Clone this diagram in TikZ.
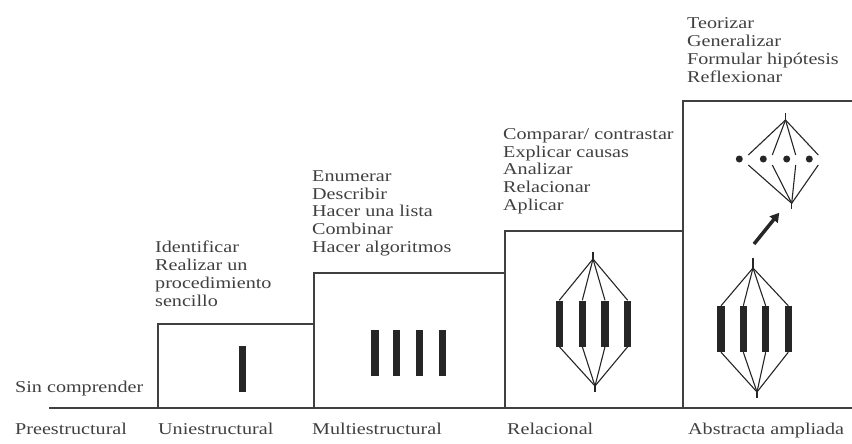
\documentclass[tikz,border=0pt]{standalone}
\usepackage{fontspec}
\setmainfont[FakeStretch=1.22]{Liberation Serif}
\usetikzlibrary{arrows.meta}

\begin{document}
\begin{tikzpicture}[x=1pt,y=-1pt,
  bar/.style={rectangle,fill=black!85,inner sep=0pt,minimum width=7.5pt,minimum height=46pt},
  dot/.style={circle,fill=black!85,inner sep=0pt,minimum size=7pt},
  lbl/.style={anchor=base west,inner sep=0pt,align=left,text=black!75,font=\fontsize{16.5}{17.9}\selectfont},
  stair/.style={draw=black!75,line width=1.6pt},
  lnk/.style={draw=black!85,line width=1.1pt}]
\useasboundingbox (0,0) rectangle (852,444);

% staircase
\draw[stair] (49,408) -- (852,408);
\draw[stair] (158,408) -- (158,324) -- (314,324);
\draw[stair] (314,408) -- (314,273) -- (505,273);
\draw[stair] (505,408) -- (505,231) -- (683,231);
\draw[stair] (683,408) -- (683,101) -- (852,101);

% verbs (base = last line)
\node[lbl] (sin) at (15,392) {Sin comprender};
\node[lbl] (uni) at (155,306.5) {Identificar\\Realizar un\\procedimiento\\sencillo};
\node[lbl] (mul) at (312,252.7) {Enumerar\\Describir\\Hacer una lista\\Combinar\\Hacer algoritmos};
\node[lbl] (rel) at (503,210.7) {Comparar/ contrastar\\Explicar causas\\Analizar\\Relacionar\\Aplicar};
\node[lbl] (abs) at (687,82) {Teorizar\\Generalizar\\Formular hipótesis\\Reflexionar};

% level names
\node[lbl] (l0) at (15,434) {Preestructural};
\node[lbl] (l1) at (158,434) {Uniestructural};
\node[lbl] (l2) at (312,434) {Multiestructural};
\node[lbl] (l3) at (507,434) {Relacional};
\node[lbl] (l4) at (688,434) {Abstracta ampliada};

% uniestructural
\node[bar] (u1) at (242.7,369) {};

% multiestructural
\node[bar] (m1) at (375,353.3) {};
\node[bar] (m2) at (396.7,353.3) {};
\node[bar] (m3) at (419.3,353.3) {};
\node[bar] (m4) at (442.3,353.3) {};

% relacional
\coordinate (rt) at (593,252);
\coordinate (rtop) at (593,259);
\node[bar] (r1) at (559.3,323.5) {};
\node[bar] (r2) at (582.3,323.5) {};
\node[bar] (r3) at (605,323.5) {};
\node[bar] (r4) at (627.7,323.5) {};
\coordinate (rbot) at (595,386);
\coordinate (rb) at (595,392);
\draw[lnk] (rt) -- (rtop);
\draw[lnk] (rbot) -- (rb);
\foreach \i in {1,...,4}
  \draw[lnk] (rtop) -- (r\i.north) (r\i.south) -- (rbot);

% abstracta ampliada, abajo
\coordinate (at) at (753,258);
\coordinate (atop) at (753,268);
\node[bar] (a1) at (721,329) {};
\node[bar] (a2) at (743.3,329) {};
\node[bar] (a3) at (765.7,329) {};
\node[bar] (a4) at (788.3,329) {};
\coordinate (abot) at (757,392);
\coordinate (ab) at (757,398);
\draw[lnk] (at) -- (atop);
\draw[lnk] (abot) -- (ab);
\foreach \i in {1,...,4}
  \draw[lnk] (atop) -- (a\i.north) (a\i.south) -- (abot);

% flecha
\coordinate (fa) at (754,244);
\coordinate (fb) at (779.3,212.7);
\draw[draw=black!85,line width=3.5pt,-{Triangle[length=9pt,width=10pt]}] (fa) -- (fb);

% abstracta ampliada, arriba
\coordinate (ht) at (785.5,113);
\coordinate (htop) at (785.5,120);
\node[dot] (d1) at (739.3,159) {};
\node[dot] (d2) at (763.3,159) {};
\node[dot] (d3) at (786.7,159) {};
\node[dot] (d4) at (809.3,159) {};
\coordinate (hbot) at (791.7,203.3);
\coordinate (hb) at (791.7,209);
\draw[lnk] (ht) -- (htop);
\draw[lnk] (hbot) -- (hb);
\foreach \i in {1,...,4}
  \draw[lnk] (htop) -- ([shift={(9,-4)}]d\i.center)
             ([shift={(9,6)}]d\i.center) -- (hbot);
\end{tikzpicture}
\end{document}
